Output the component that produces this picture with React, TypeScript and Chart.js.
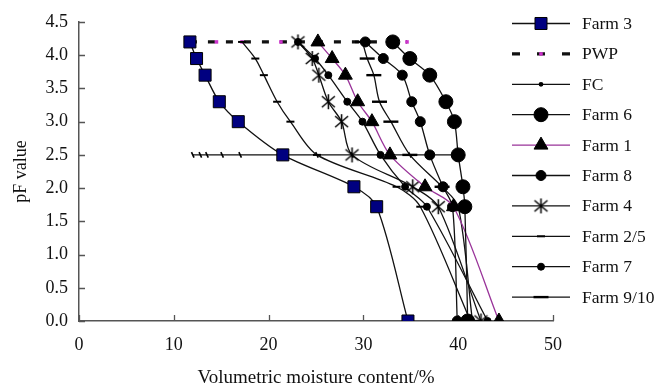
import React, { useEffect, useRef } from 'react';
import { Chart, registerables } from 'chart.js';
import { drawPoint } from 'chart.js/helpers';

Chart.register(...registerables);

// pF levels measured for every farm (top to bottom)
const pFLevels = [4.2, 3.95, 3.7, 3.3, 3.0, 2.5, 2.02, 1.72, 0];
// Volumetric moisture content (%) of each farm at those pF levels
const farm3 = [11.7, 12.4, 13.3, 14.8, 16.8, 21.5, 29.0, 31.4, 34.7];
const farm6 = [33.1, 34.9, 37.0, 38.7, 39.6, 40.0, 40.5, 40.7, 41.0];
const farm1 = [25.2, 26.7, 28.1, 29.4, 30.9, 32.8, 36.5, 39.5, 44.3];
const farm8 = [30.2, 32.1, 34.1, 35.1, 36.0, 37.0, 38.4, 39.4, 39.9];
const farm4 = [23.1, 24.6, 25.3, 26.3, 27.7, 28.8, 35.2, 37.9, 42.4];
const farm25 = [17.2, 18.6, 19.5, 20.9, 22.3, 25.1, 33.5, 36.0, 41.3];
const farm7 = [23.1, 24.9, 26.3, 28.3, 29.9, 31.8, 34.4, 36.7, 43.1];
const farm910 = [29.9, 30.4, 31.1, 31.7, 32.9, 34.9, 38.3, 40.0, 41.5];
// Permanent wilting point line (pF 4.2) and field capacity line (pF 2.5)
const pwpLevel = 4.2;
const pwpX = [11.7, 14.5, 17.2, 21.3, 23.1, 25.2, 30.2, 33.1, 34.6];
const fcLevel = 2.5;
const fcX = [12.0, 12.8, 13.5, 15.1, 17.0, 21.5, 25.1, 28.8, 31.8, 32.8, 34.9, 37.0, 40.0];
// Axis ticks
const xTicks = [0, 10, 20, 30, 40, 50];
const yTicks = [0, 0.5, 1.0, 1.5, 2.0, 2.5, 3.0, 3.5, 4.0, 4.5];

const FONT = '"Liberation Serif", "Times New Roman", serif';

const toPts = (xs: number[]) => xs.map((x, i) => ({ x, y: pFLevels[i] }));
const flat = (xs: number[], y: number) => xs.map((x) => ({ x, y }));

function makeAsterisk(): HTMLCanvasElement {
  const c = document.createElement('canvas');
  c.width = 17;
  c.height = 17;
  const g = c.getContext('2d')!;
  g.strokeStyle = '#000';
  g.lineWidth = 1.5;
  g.beginPath();
  g.moveTo(8.5, 1);
  g.lineTo(8.5, 16);
  g.moveTo(2, 3);
  g.lineTo(15, 14);
  g.moveTo(15, 3);
  g.lineTo(2, 14);
  g.stroke();
  return c;
}

const innerTicks = {
  id: 'innerTicks',
  beforeDatasetsDraw(chart: any) {
    const { ctx, chartArea } = chart;
    const xs = chart.scales.x;
    const ys = chart.scales.y;
    ctx.save();
    ctx.strokeStyle = '#555';
    ctx.lineWidth = 1.3;
    ctx.beginPath();
    xTicks.forEach((v) => {
      const px = Math.round(xs.getPixelForValue(v)) + 0.5;
      ctx.moveTo(px, chartArea.bottom);
      ctx.lineTo(px, chartArea.bottom - 6);
    });
    yTicks.forEach((v) => {
      const py = Math.round(ys.getPixelForValue(v)) + 0.5;
      ctx.moveTo(chartArea.left, py);
      ctx.lineTo(chartArea.left + 6, py);
    });
    ctx.stroke();
    ctx.restore();
  },
};

const sideLegend = {
  id: 'sideLegend',
  afterDraw(chart: any) {
    const { ctx, chartArea } = chart;
    const x0 = chartArea.right - 41;
    const x1 = x0 + 58;
    const xm = (x0 + x1) / 2;
    const top = chartArea.top + 1.5;
    chart.data.datasets.forEach((ds: any, i: number) => {
      const y = top + i * 30.4;
      ctx.save();
      ctx.strokeStyle = ds.borderColor;
      ctx.lineWidth = ds.borderWidth;
      ctx.setLineDash(ds.legendDash || []);
      ctx.beginPath();
      ctx.moveTo(x0, y);
      ctx.lineTo(x1, y);
      ctx.stroke();
      ctx.setLineDash([]);
      ctx.fillStyle = ds.pointBackgroundColor;
      ctx.strokeStyle = ds.pointBorderColor;
      ctx.lineWidth = ds.pointBorderWidth;
      const style = ds.legendPointStyle || ds.pointStyle;
      const radius = ds.legendRadius != null ? ds.legendRadius : ds.pointRadius;
      drawPoint(ctx, { pointStyle: style, radius, rotation: 0, borderWidth: ds.pointBorderWidth }, xm, y);
      ctx.restore();
      ctx.save();
      ctx.fillStyle = '#111';
      ctx.font = `17.5px ${FONT}`;
      ctx.textBaseline = 'middle';
      ctx.textAlign = 'left';
      ctx.fillText(ds.label, x1 + 12, y + 1);
      ctx.restore();
    });
  },
};

export default function App() {
  const ref = useRef<HTMLCanvasElement | null>(null);

  useEffect(() => {
    document.body.style.margin = '0';
    const asterisk = makeAsterisk();
    const line = (label: string, data: any[], extra: any) => ({
      label,
      data,
      showLine: true,
      borderColor: '#111',
      borderWidth: 1.3,
      tension: 0.3,
      order: 0,
      pointBackgroundColor: '#000',
      pointBorderColor: '#000',
      pointBorderWidth: 1,
      ...extra,
    });
    const datasets = [
      line('Farm 3', toPts(farm3), {
        pointStyle: 'rect', pointRadius: 8.5, pointBackgroundColor: '#000080', pointBorderColor: '#000', pointBorderWidth: 1,
      }),
      line('PWP', flat(pwpX, pwpLevel), {
        borderWidth: 3.2, borderDash: [7, 11], legendDash: [8, 17], tension: 0, order: 2,
        pointStyle: 'rect', pointRadius: 2.5, pointBackgroundColor: '#cc33cc', pointBorderColor: '#cc33cc', pointBorderWidth: 0,
      }),
      line('FC', flat(fcX, fcLevel), {
        borderWidth: 1.3, tension: 0, order: 1,
        pointStyle: 'line', pointRadius: 3, rotation: 65, pointBorderWidth: 1.6,
        legendPointStyle: 'circle', legendRadius: 1.6,
      }),
      line('Farm 6', toPts(farm6), { pointStyle: 'circle', pointRadius: 7 }),
      line('Farm 1', toPts(farm1), { borderColor: '#993399', pointStyle: 'triangle', pointRadius: 8 }),
      line('Farm 8', toPts(farm8), { pointStyle: 'circle', pointRadius: 5 }),
      line('Farm 4', toPts(farm4), { pointStyle: asterisk, pointRadius: 8 }),
      line('Farm 2/5', toPts(farm25), { pointStyle: 'line', pointRadius: 4, pointBorderWidth: 2 }),
      line('Farm 7', toPts(farm7), { pointStyle: 'circle', pointRadius: 3.5 }),
      line('Farm 9/10', toPts(farm910), { pointStyle: 'line', pointRadius: 7.5, pointBorderWidth: 2.4 }),
    ];

    const tickFont = { family: FONT, size: 18 };
    const titleFont = { family: FONT, size: 19 };
    const chart = new Chart(ref.current!, {
      type: 'scatter',
      data: { datasets },
      plugins: [innerTicks, sideLegend],
      options: {
        animation: false,
        responsive: false,
        events: [],
        layout: { padding: { top: 22, right: 106, left: 0, bottom: 0 } },
        plugins: { legend: { display: false }, tooltip: { enabled: false } },
        scales: {
          x: {
            type: 'linear',
            min: 0,
            max: 50,
            afterBuildTicks: (s: any) => { s.ticks = xTicks.map((v) => ({ value: v })); },
            afterFit: (s: any) => { s.height = 66; },
            grid: { display: false, drawTicks: false },
            border: { display: true, color: '#555', width: 1.5 },
            ticks: { font: tickFont, color: '#111', padding: 13, maxRotation: 0, callback: (v: any) => String(v) },
            title: { display: true, text: 'Volumetric moisture content/%', font: titleFont, color: '#111', padding: { top: 0, bottom: -2 } },
          },
          y: {
            type: 'linear',
            min: 0,
            max: 4.5,
            afterBuildTicks: (s: any) => { s.ticks = yTicks.map((v) => ({ value: v })); },
            afterFit: (s: any) => { s.width = 79; },
            grid: { display: false, drawTicks: false },
            border: { display: true, color: '#555', width: 1.5 },
            ticks: { font: tickFont, color: '#111', padding: 11, callback: (v: any) => Number(v).toFixed(1) },
            title: { display: true, text: 'pF value', font: tickFont, color: '#111', padding: { top: 10, bottom: 0 } },
          },
        },
      } as any,
    });
    return () => chart.destroy();
  }, []);

  return (
    <div style={{ position: 'absolute', left: 0, top: 0, width: 659, height: 387, background: '#fff' }}>
      <canvas ref={ref} width={659} height={387} style={{ width: 659, height: 387, display: 'block' }} />
    </div>
  );
}
